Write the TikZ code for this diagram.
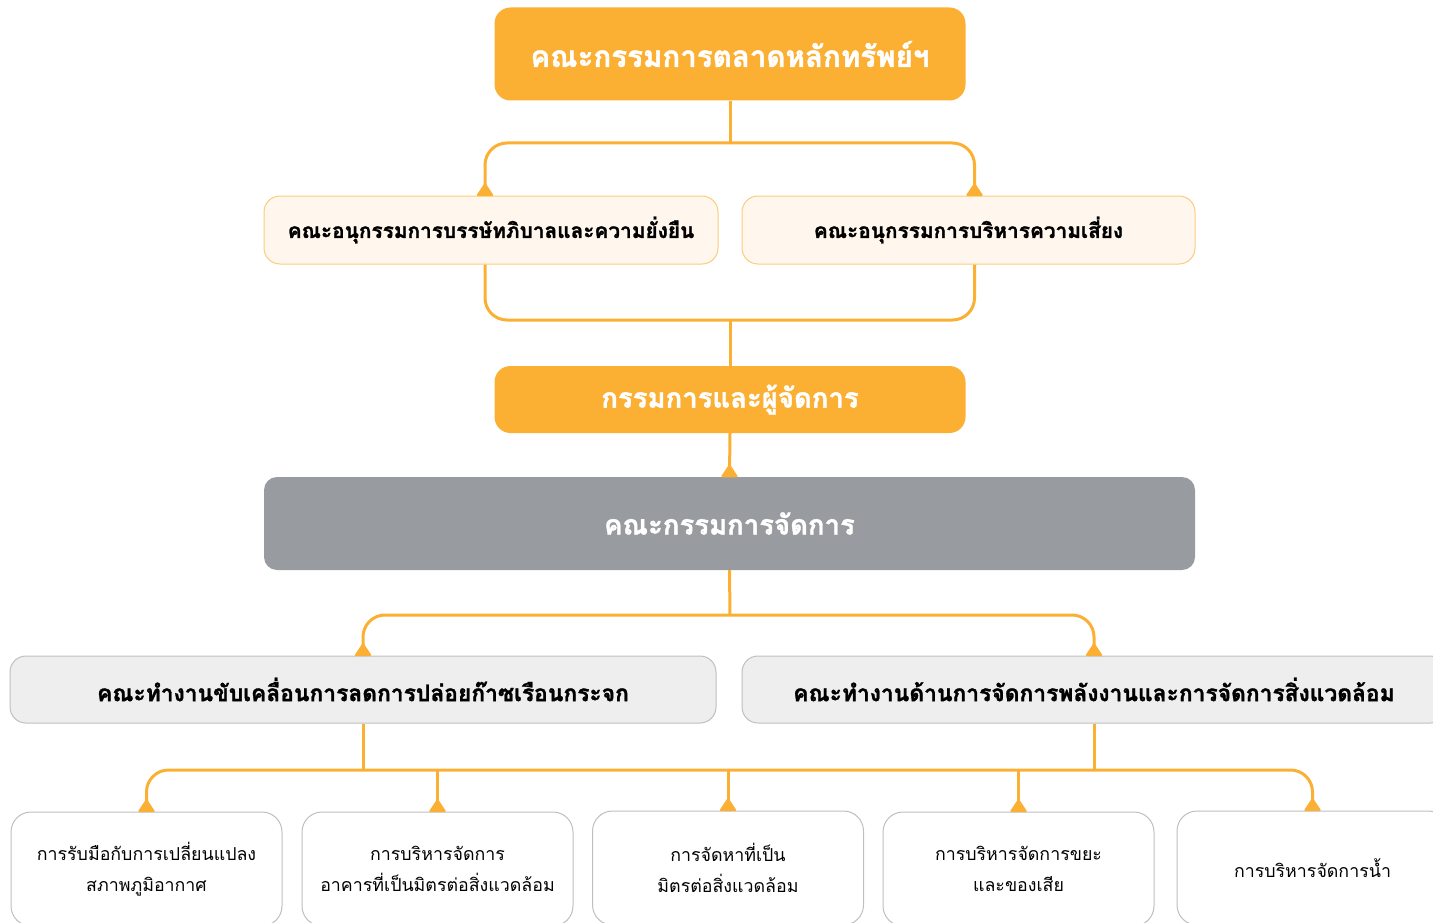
\documentclass[tikz,border=0pt]{standalone}
\usepackage{fontspec}
\newfontfamily\thaifont[Script=Thai, BoldFeatures={FakeBold=1.3}]{Loma}
\usepackage{tikz}
\usetikzlibrary{arrows.meta, positioning}
\definecolor{setorange}{HTML}{FBB034}
\definecolor{cream}{HTML}{FFF7EE}
\definecolor{creamline}{HTML}{FCCB7A}
\definecolor{execgray}{HTML}{989BA0}
\definecolor{wgfill}{HTML}{EEEEEF}
\definecolor{boxline}{HTML}{BCBFC4}

\tikzset{
  pics/uptri/.style={code={
    \fill[setorange, rounded corners=1.5pt] (-9,0.5) -- (0,-13) -- (9,0.5) -- cycle;}}
}

\begin{document}
\begin{tikzpicture}[x=1pt, y=-1pt, font=\thaifont,
  link/.style={setorange, line width=3pt, rounded corners=22pt},
  topbox/.style={fill=setorange, rounded corners=16pt, text=white, inner sep=0pt,
    font=\thaifont\bfseries\fontsize{27.5}{32}\selectfont},
  subbox/.style={draw=creamline, line width=1pt, fill=cream, rounded corners=16pt,
    inner sep=0pt, minimum height=68, font=\thaifont\bfseries\fontsize{20.8}{24}\selectfont},
  wgbox/.style={draw=boxline, line width=1pt, fill=wgfill, rounded corners=16pt,
    inner sep=0pt, minimum height=67, font=\thaifont\bfseries\fontsize{22.8}{26}\selectfont},
  leafbox/.style={draw=boxline, line width=1pt, fill=white, rounded corners=20pt,
    inner sep=0pt, minimum width=271, minimum height=114, align=center,
    text=black, font=\thaifont\fontsize{17.8}{31}\selectfont}]

\useasboundingbox (0,0) rectangle (1433,923);
\clip (0,0) rectangle (1433,923);

% ---- board and subcommittees ------------------------------------------
\node[topbox, minimum width=471, minimum height=93,
  font=\thaifont\bfseries\fontsize{29.5}{34}\selectfont] (board) at (730,54)
  {คณะกรรมการตลาดหลักทรัพย์ฯ};
\node[subbox, minimum width=454] (gov) at (491,230)
  {คณะอนุกรรมการบรรษัทภิบาลและความยั่งยืน};
\node[subbox, minimum width=453] (risk) at (968.5,230)
  {คณะอนุกรรมการบริหารความเสี่ยง};

% ---- management -----------------------------------------------------------
\node[topbox, minimum width=471, minimum height=67] (mgr) at (730,399.5)
  {กรรมการและผู้จัดการ};
\node[topbox, fill=execgray, rounded corners=13pt, minimum width=931,
  minimum height=93] (exec) at (729.5,523.5) {คณะกรรมการจัดการ};

% ---- working groups -------------------------------------------------------
\node[wgbox, minimum width=706] (wg1) at (363,689.5)
  {คณะทำงานขับเคลื่อนการลดการปล่อยก๊าซเรือนกระจก};
\node[wgbox, minimum width=704] (wg2) at (1094,689.5)
  {คณะทำงานด้านการจัดการพลังงานและการจัดการสิ่งแวดล้อม};

% ---- topics ---------------------------------------------------------------
\node[leafbox] (leaf1) at (146.5,869) {การรับมือกับการเปลี่ยนแปลง\\สภาพภูมิอากาศ};
\node[leafbox] (leaf2) at (437.5,869) {การบริหารจัดการ\\อาคารที่เป็นมิตรต่อสิ่งแวดล้อม};
\node[leafbox] (leaf3) at (728,868) {การจัดหาที่เป็น\\มิตรต่อสิ่งแวดล้อม};
\node[leafbox] (leaf4) at (1018.5,869) {การบริหารจัดการขยะ\\และของเสีย};
\node[leafbox] (leaf5) at (1312.5,868) {การบริหารจัดการน้ำ};

% ---- connectors -----------------------------------------------------------
\coordinate (split1) at (730,143);
\coordinate (merge1) at (730,320);
\coordinate (split2) at (730,615);
\coordinate (row) at (730,770);

\draw[link] (board.south) -- (split1);
\draw[link] (split1) -| ([xshift=-6]gov.north) pic {uptri};
\draw[link] (split1) -| ([xshift=6]risk.north) pic {uptri};
\draw[link] ([xshift=-6]gov.south) |- (merge1) -| ([xshift=6]risk.south);
\draw[link] (merge1) -- (mgr.north);
\draw[link] (mgr.south) -- (exec.north) pic {uptri};

\draw[link] (exec.south) -- (split2);
\draw[link] (split2) -| (wg1.north) pic {uptri};
\draw[link] (split2) -| (wg2.north) pic {uptri};

\draw[link] (wg1.south) -- (wg1.south |- row);
\draw[link] (wg2.south) -- (wg2.south |- row);
\draw[link] (row) -| (leaf1.north) pic {uptri};
\draw[link] (row) -| (leaf5.north) pic {uptri};
\foreach \n in {2,3,4}
  \draw[link] (leaf\n.north |- row) -- (leaf\n.north) pic {uptri};
\end{tikzpicture}
\end{document}
